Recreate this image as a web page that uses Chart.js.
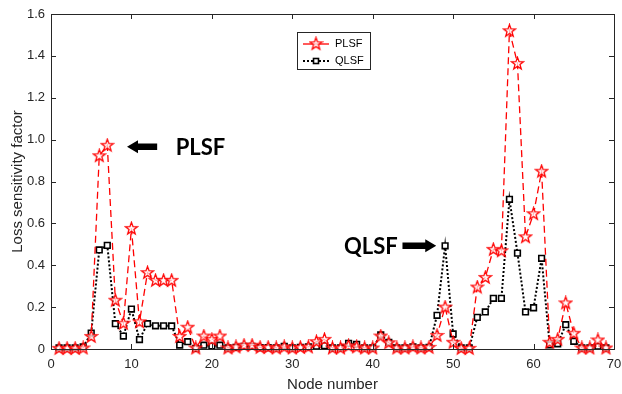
<!DOCTYPE html>
<html>
<head>
<meta charset="utf-8">
<script src="https://cdn.jsdelivr.net/npm/chart.js@4.4.1/dist/chart.umd.min.js"></script>
<style>
  html, body { margin: 0; padding: 0; background: #ffffff; }
  #wrap { width: 622px; height: 394px; position: relative; }
</style>
</head>
<body>
<div id="wrap"><canvas id="c" width="622" height="394"></canvas></div>
<script>
// ---- data ----
const nodes = [];
for (let i = 1; i <= 69; i++) nodes.push(i);

const plsf = [
  0.003, 0.003, 0.003, 0.005, 0.060, 0.923, 0.973, 0.233, 0.123, 0.576,
  0.130, 0.365, 0.328, 0.328, 0.328, 0.060, 0.104, 0.005, 0.062, 0.045,
  0.062, 0.005, 0.010, 0.018, 0.018, 0.008, 0.008, 0.005, 0.010, 0.005,
  0.008, 0.010, 0.035, 0.046, 0.005, 0.005, 0.015, 0.010, 0.005, 0.005,
  0.062, 0.030, 0.005, 0.005, 0.010, 0.005, 0.008, 0.065, 0.200, 0.032,
  0.003, 0.003, 0.296, 0.342, 0.476, 0.469, 1.520, 1.364, 0.536, 0.646,
  0.849, 0.032, 0.046, 0.220, 0.075, 0.005, 0.005, 0.043, 0.005
];
const qlsf = [
  0.005, 0.005, 0.005, 0.010, 0.076, 0.473, 0.495, 0.121, 0.062, 0.191,
  0.045, 0.121, 0.111, 0.111, 0.110, 0.019, 0.035, 0.003, 0.018, 0.015,
  0.018, 0.005, 0.008, 0.013, 0.013, 0.006, 0.006, 0.005, 0.013, 0.005,
  0.008, 0.010, 0.013, 0.016, 0.005, 0.005, 0.027, 0.022, 0.005, 0.005,
  0.067, 0.032, 0.005, 0.005, 0.010, 0.005, 0.008, 0.161, 0.493, 0.072,
  0.005, 0.005, 0.151, 0.177, 0.242, 0.242, 0.715, 0.458, 0.177, 0.197,
  0.433, 0.020, 0.025, 0.116, 0.037, 0.005, 0.005, 0.013, 0.005
];
const seriesNames = ['PLSF', 'QLSF'];
const xTicks = [0, 10, 20, 30, 40, 50, 60, 70];
const yTicks = [0, 0.2, 0.4, 0.6, 0.8, 1, 1.2, 1.4, 1.6];
const xTitle = 'Node number';
const yTitle = 'Loss sensitivity factor';

// ---- marker images ----
function makeStar(color) {
  const cv = document.createElement('canvas');
  cv.width = 15; cv.height = 15;
  const g = cv.getContext('2d');
  const cx = 7.5, cy = 7.8, R = 6.4, r = 2.6;
  g.beginPath();
  for (let k = 0; k < 10; k++) {
    const a = -Math.PI / 2 + k * Math.PI / 5;
    const rad = (k % 2 === 0) ? R : r;
    const px = cx + rad * Math.cos(a), py = cy + rad * Math.sin(a);
    if (k === 0) g.moveTo(px, py); else g.lineTo(px, py);
  }
  g.closePath();
  g.fillStyle = 'rgba(255,255,255,0.7)';
  g.fill();
  g.strokeStyle = color;
  g.lineWidth = 1.3;
  g.stroke();
  return cv;
}
const starImg = makeStar('#ff0000');

const INK = '#262626';
const FONT = '"Liberation Sans", Arial, sans-serif';

// ---- plugin: box, inward ticks, legend, annotations ----
const decor = {
  id: 'decor',
  afterDatasetsDraw(chart) {
    const ctx = chart.ctx;
    const xs = chart.scales.x, ys = chart.scales.y;
    const a = chart.chartArea;
    ctx.save();
    ctx.strokeStyle = INK;
    ctx.lineWidth = 1;
    ctx.setLineDash([]);
    ctx.strokeRect(Math.round(a.left) + 0.5, Math.round(a.top) + 0.5,
                   Math.round(a.right - a.left), Math.round(a.bottom - a.top));
    const tl = 5;
    ctx.beginPath();
    xTicks.forEach(v => {
      const px = Math.round(xs.getPixelForValue(v)) + 0.5;
      ctx.moveTo(px, a.bottom); ctx.lineTo(px, a.bottom - tl);
      ctx.moveTo(px, a.top); ctx.lineTo(px, a.top + tl);
    });
    yTicks.forEach(v => {
      const py = Math.round(ys.getPixelForValue(v)) + 0.5;
      ctx.moveTo(a.left, py); ctx.lineTo(a.left + tl, py);
      ctx.moveTo(a.right, py); ctx.lineTo(a.right - tl, py);
    });
    ctx.stroke();

    // legend box
    const lx = 297.5, ly = 32.5, lw = 73, lh = 37;
    ctx.fillStyle = '#ffffff';
    ctx.fillRect(lx, ly, lw, lh);
    ctx.strokeStyle = INK;
    ctx.strokeRect(lx, ly, lw, lh);
    // PLSF entry
    ctx.strokeStyle = '#ff0000';
    ctx.lineWidth = 1.3;
    ctx.setLineDash([]);
    ctx.beginPath(); ctx.moveTo(303, 44); ctx.lineTo(329, 44); ctx.stroke();
    ctx.drawImage(starImg, 316 - 7.5, 44 - 7.8);
    // QLSF entry
    ctx.strokeStyle = '#000000';
    ctx.lineWidth = 2;
    ctx.setLineDash([2, 2]);
    ctx.beginPath(); ctx.moveTo(303, 61); ctx.lineTo(329, 61); ctx.stroke();
    ctx.setLineDash([]);
    ctx.fillStyle = '#ffffff';
    ctx.fillRect(313.5, 58.5, 5, 5);
    ctx.lineWidth = 1.6;
    ctx.strokeRect(313.5, 58.5, 5, 5);
    ctx.fillStyle = '#000000';
    ctx.font = '11px ' + FONT;
    ctx.textBaseline = 'middle';
    ctx.textAlign = 'left';
    ctx.fillText(seriesNames[0], 335, 44);
    ctx.fillText(seriesNames[1], 335, 61);

    // annotations (arrows + labels), placed in data coordinates
    function arrow(x1, x2, yv) {
      const p1 = xs.getPixelForValue(x1), p2 = xs.getPixelForValue(x2);
      const py = ys.getPixelForValue(yv);
      const dir = Math.sign(p2 - p1);
      const head = 11, hh = 6.5, sh = 3.2;
      ctx.fillStyle = '#000000';
      ctx.beginPath();
      ctx.moveTo(p1, py - sh);
      ctx.lineTo(p2 - dir * head, py - sh);
      ctx.lineTo(p2 - dir * head, py - hh);
      ctx.lineTo(p2, py);
      ctx.lineTo(p2 - dir * head, py + hh);
      ctx.lineTo(p2 - dir * head, py + sh);
      ctx.lineTo(p1, py + sh);
      ctx.closePath();
      ctx.fill();
    }
    arrow(13.2, 9.45, 0.966);
    arrow(43.7, 47.9, 0.493);
    ctx.font = 'bold 22px Lato, "Noto Sans", sans-serif';
    ctx.textBaseline = 'middle';
    ctx.textAlign = 'left';
    ctx.fillText('PLSF', xs.getPixelForValue(15.5), ys.getPixelForValue(0.966) + 1);
    ctx.textAlign = 'right';
    ctx.fillText('QLSF', xs.getPixelForValue(43.1), ys.getPixelForValue(0.493) + 1);
    ctx.restore();
  }
};

const toPts = arr => arr.map((v, i) => ({ x: nodes[i], y: v }));

new Chart(document.getElementById('c'), {
  type: 'line',
  data: {
    datasets: [
      {
        label: seriesNames[1],
        data: toPts(qlsf),
        borderColor: '#000000',
        borderWidth: 2,
        borderDash: [2, 2],
        pointStyle: 'rect',
        pointRadius: 4,
        pointBorderWidth: 1.6,
        pointBorderColor: '#000000',
        pointBackgroundColor: '#ffffff',
        tension: 0,
        clip: false,
        order: 2
      },
      {
        label: seriesNames[0],
        data: toPts(plsf),
        borderColor: '#ff0000',
        borderWidth: 1.3,
        borderDash: [7, 4],
        pointStyle: starImg,
        tension: 0,
        clip: false,
        order: 1
      }
    ]
  },
  options: {
    responsive: false,
    animation: false,
    devicePixelRatio: 1,
    layout: { padding: { top: 14, right: 8, left: 0, bottom: 0 } },
    plugins: { legend: { display: false }, tooltip: { enabled: false } },
    scales: {
      x: {
        type: 'linear',
        min: 0, max: 70,
        afterFit(s) { s.height = 45; s.paddingRight = 0; s.paddingLeft = 0; },
        afterBuildTicks(s) { s.ticks = xTicks.map(v => ({ value: v })); },
        grid: { display: false, drawTicks: false },
        border: { display: false },
        ticks: { color: INK, font: { size: 13, family: FONT }, padding: 8, maxRotation: 0 },
        title: { display: true, text: xTitle, color: INK, font: { size: 15, family: FONT }, padding: { top: 0, bottom: 0 } }
      },
      y: {
        min: 0, max: 1.6,
        afterFit(s) { s.width = 51; s.paddingTop = 0; s.paddingBottom = 0; },
        afterBuildTicks(s) { s.ticks = yTicks.map(v => ({ value: v })); },
        grid: { display: false, drawTicks: false },
        border: { display: false },
        ticks: { color: INK, font: { size: 13, family: FONT }, padding: 6 },
        title: { display: true, text: yTitle, color: INK, font: { size: 15, family: FONT }, padding: { top: 9, bottom: 0 } }
      }
    }
  },
  plugins: [decor]
});
</script>
</body>
</html>
